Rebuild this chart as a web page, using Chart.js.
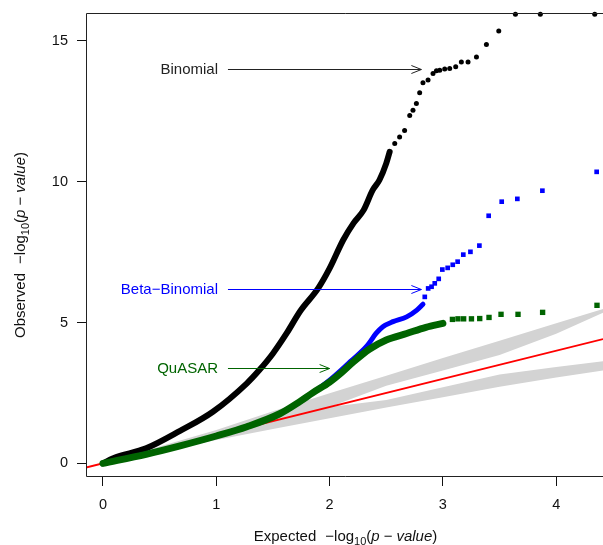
<!DOCTYPE html>
<html>
<head>
<meta charset="utf-8">
<script src="https://cdn.jsdelivr.net/npm/chart.js@4"></script>
<style>
    body { margin: 0; background: #fff; }
    canvas { display: block; }
</style>
</head>
<body>
<canvas id="qqChart" width="603" height="545"></canvas>
<script>
// Axis ticks
const xTicks = [0, 1, 2, 3, 4];
const yTicks = [0, 5, 10, 15];

// Binomial: dense run of points, then the sparse tail
const binomialCurve = [
    [0, 0], [0.09, 0.18], [0.38, 0.53], [0.68, 1.15], [0.97, 1.83], [1.27, 2.84],
    [1.38, 3.31], [1.5, 3.9], [1.62, 4.61], [1.74, 5.4], [1.9, 6.22], [2.0, 6.92],
    [2.12, 7.93], [2.21, 8.52], [2.3, 8.99], [2.38, 9.7], [2.44, 10.06], [2.5, 10.65], [2.53, 11.06]
];
const binomialTail = [
    [2.575, 11.36], [2.618, 11.59], [2.662, 11.82], [2.707, 12.35], [2.736, 12.54], [2.766, 12.78],
    [2.795, 13.16], [2.824, 13.51], [2.869, 13.61], [2.913, 13.84], [2.943, 13.94], [2.972, 13.96],
    [3.016, 14.0], [3.06, 14.02], [3.113, 14.08], [3.163, 14.25], [3.222, 14.25], [3.296, 14.43],
    [3.384, 14.87], [3.493, 15.35], [3.64, 15.95], [3.86, 15.95], [4.34, 15.95]
];

// Beta-Binomial
const betaCurve = [
    [0, 0], [0.68, 0.62], [1.0, 0.97], [1.27, 1.3], [1.56, 1.76], [1.74, 2.2], [1.85, 2.5],
    [2.0, 2.95], [2.1, 3.3], [2.18, 3.6], [2.33, 4.17], [2.41, 4.61], [2.47, 4.85],
    [2.56, 5.03], [2.68, 5.2], [2.77, 5.44], [2.824, 5.65]
];
const betaTail = [
    [2.84, 5.91], [2.87, 6.21], [2.9, 6.27], [2.928, 6.39], [2.963, 6.55], [2.995, 6.88],
    [3.042, 6.94], [3.087, 7.05], [3.13, 7.16], [3.18, 7.41], [3.243, 7.51], [3.322, 7.73],
    [3.404, 8.79], [3.519, 9.29], [3.657, 9.39], [3.878, 9.68], [4.357, 10.35]
];

// QuASAR
const quasarCurve = [
    [0, 0], [0.38, 0.32], [0.68, 0.62], [1.0, 0.97], [1.27, 1.3], [1.56, 1.76], [1.74, 2.2],
    [1.85, 2.5], [2.0, 2.88], [2.1, 3.2], [2.21, 3.6], [2.35, 4.05], [2.5, 4.38],
    [2.68, 4.61], [2.85, 4.83], [3.0, 4.97]
];
const quasarTail = [
    [3.084, 5.11], [3.133, 5.13], [3.183, 5.13], [3.252, 5.13], [3.325, 5.14],
    [3.407, 5.18], [3.513, 5.29], [3.663, 5.29], [3.88, 5.36], [4.36, 5.61]
];

// Grey envelope and the white gap inside it
const bandX = [0, 0.5, 1, 1.5, 2, 2.5, 3, 3.5, 4, 4.413];
const bandUpper = [0, 0.6, 1.18, 1.85, 2.49, 3.11, 3.74, 4.35, 4.97, 5.48];
const bandLower = [0, 0.42, 0.83, 1.22, 1.6, 1.98, 2.35, 2.72, 3.05, 3.3];
const gapUpper = [0, 0.5, 1, 1.5, 2, 2.75, 3.3, 3.85, 4.6, 5.35];
const gapLower = [0, 0.5, 1, 1.5, 2, 2.25, 2.7, 3.15, 3.42, 3.62];

// y = x reference line
const diagonalX = [-0.15, 4.413];

const FONT = '"Liberation Sans", Arial, Helvetica, sans-serif';
const DARKGREEN = "#006400";
const BLUE = "#0000ff";

// Labelled arrows (data coordinates)
const arrows = [
    { text: "Binomial", color: "#222", y: 14.0, from: 1.103, to: 2.81 },
    { text: "Beta\u2212Binomial", color: BLUE, y: 6.19, from: 1.103, to: 2.81 },
    { text: "QuASAR", color: DARKGREEN, y: 3.39, from: 1.103, to: 2.0 },
];

const toXY = (pairs) => pairs.map(([x, y]) => ({ x, y }));
const bandData = (ys) => bandX.map((x, i) => ({ x, y: ys[i] }));

// "<prefix>  -log10(p - value)" with subscript and italics
function drawMathTitle(ctx, prefix) {
    const N = "15px " + FONT;
    const I = "italic 15px " + FONT;
    const S = "11px " + FONT;
    const runs = [
        { t: prefix, f: N }, { gap: 9 }, { t: "\u2212log", f: N }, { t: "10", f: S, dy: 4 },
        { t: "(", f: N }, { t: "p", f: I }, { gap: 4 }, { t: "\u2212", f: N }, { gap: 4 },
        { t: "value", f: I }, { t: ")", f: N },
    ];
    let total = 0;
    runs.forEach((r) => {
        if (r.gap) { total += r.gap; return; }
        ctx.font = r.f;
        r.w = ctx.measureText(r.t).width;
        total += r.w;
    });
    let pos = -total / 2;
    ctx.textAlign = "left";
    ctx.textBaseline = "alphabetic";
    runs.forEach((r) => {
        if (r.gap) { pos += r.gap; return; }
        ctx.font = r.f;
        ctx.fillText(r.t, pos, r.dy || 0);
        pos += r.w;
    });
}

const decorations = {
    id: "decorations",
    afterDatasetsDraw(chart) {
        const { ctx, scales: { x, y } } = chart;
        ctx.save();
        arrows.forEach((a) => {
            const py = Math.round(y.getPixelForValue(a.y)) + 0.5;
            const x0 = x.getPixelForValue(a.from);
            const x1 = x.getPixelForValue(a.to);
            ctx.strokeStyle = a.color;
            ctx.lineWidth = 1;
            ctx.beginPath();
            ctx.moveTo(x0, py);
            ctx.lineTo(x1, py);
            ctx.moveTo(x1 - 10, py - 4);
            ctx.lineTo(x1, py);
            ctx.lineTo(x1 - 10, py + 4);
            ctx.stroke();

            ctx.fillStyle = a.color;
            ctx.font = "15px " + FONT;
            ctx.textAlign = "right";
            ctx.textBaseline = "middle";
            ctx.fillText(a.text, x.getPixelForValue(1.015), py + 0.5);
        });
        ctx.restore();
    },
    afterDraw(chart) {
        const { ctx, chartArea: a } = chart;
        ctx.save();
        // box: top, left and bottom (right side falls off the canvas)
        ctx.strokeStyle = "#222";
        ctx.lineWidth = 1;
        ctx.beginPath();
        ctx.moveTo(a.right + 1, a.top + 0.5);
        ctx.lineTo(a.left + 0.5, a.top + 0.5);
        ctx.lineTo(a.left + 0.5, a.bottom - 0.5);
        ctx.lineTo(a.right + 1, a.bottom - 0.5);
        ctx.stroke();

        ctx.fillStyle = "#111";
        ctx.save();
        ctx.translate((a.left + a.right) / 2 + 1, 541);
        drawMathTitle(ctx, "Expected");
        ctx.restore();

        ctx.save();
        ctx.translate(25, (a.top + a.bottom) / 2);
        ctx.rotate(-Math.PI / 2);
        drawMathTitle(ctx, "Observed");
        ctx.restore();
        ctx.restore();
    },
};

function createQQChart() {
    const ctx = document.getElementById("qqChart").getContext("2d");

    const dense = (data, color, width, order) => ({
        data: toXY(data), borderColor: color, borderWidth: width, pointRadius: 0,
        cubicInterpolationMode: "monotone", borderCapStyle: "round", borderJoinStyle: "round",
        fill: false, order: order, clip: false,
    });
    const tail = (data, color, style, radius, order) => ({
        data: toXY(data), showLine: false, pointStyle: style, pointRadius: radius,
        pointBackgroundColor: color, pointBorderWidth: 0, borderColor: color,
        fill: false, order: order, clip: false,
    });
    const band = (ys, color, fillTarget, order) => ({
        data: bandData(ys), borderWidth: 0, pointRadius: 0, backgroundColor: color,
        fill: fillTarget, order: order,
    });

    new Chart(ctx, {
        type: "line",
        data: {
            datasets: [
                band(bandUpper, "#d3d3d3", 1, 20),
                band(bandLower, "#d3d3d3", false, 20),
                band(gapUpper, "#ffffff", 3, 19),
                band(gapLower, "#ffffff", false, 19),
                {
                    data: diagonalX.map((v) => ({ x: v, y: v })), borderColor: "#ff0000",
                    borderWidth: 1.8, pointRadius: 0, fill: false, order: 18,
                },
                dense(binomialCurve, "#000000", 6, 17),
                tail(binomialTail, "#000000", "circle", 2.5, 17),
                dense(betaCurve, BLUE, 5, 16),
                tail(betaTail, BLUE, "rect", 3.3, 16),
                dense(quasarCurve, DARKGREEN, 7, 15),
                tail(quasarTail, DARKGREEN, "rect", 3.8, 15),
            ],
        },
        options: {
            responsive: false,
            animation: false,
            devicePixelRatio: 1,
            // no auto padding: the panel runs right up to the canvas edge
            layout: { autoPadding: false, padding: { top: 13, left: 0, right: 0, bottom: 0 } },
            plugins: { legend: { display: false }, tooltip: { enabled: false } },
            scales: {
                x: {
                    type: "linear",
                    min: -0.15,
                    max: 4.413,
                    afterFit: (s) => { s.height = 68; s.paddingLeft = 0; s.paddingRight = 0; },
                    afterBuildTicks: (s) => { s.ticks = xTicks.map((v) => ({ value: v })); },
                    grid: { drawOnChartArea: false, tickLength: 9, color: "#111" },
                    border: { display: false },
                    ticks: { padding: 10, color: "#111", autoSkip: false, maxRotation: 0, font: { family: FONT, size: 14.5 } },
                },
                y: {
                    type: "linear",
                    min: -0.486,
                    max: 15.99,
                    afterFit: (s) => { s.width = 86; s.paddingTop = 0; s.paddingBottom = 0; },
                    afterBuildTicks: (s) => { s.ticks = yTicks.map((v) => ({ value: v })); },
                    grid: { drawOnChartArea: false, tickLength: 9, color: "#111" },
                    border: { display: false },
                    ticks: { padding: 9, color: "#111", autoSkip: false, font: { family: FONT, size: 14.5 } },
                },
            },
        },
        plugins: [decorations],
    });
}

createQQChart();
</script>
</body>
</html>
